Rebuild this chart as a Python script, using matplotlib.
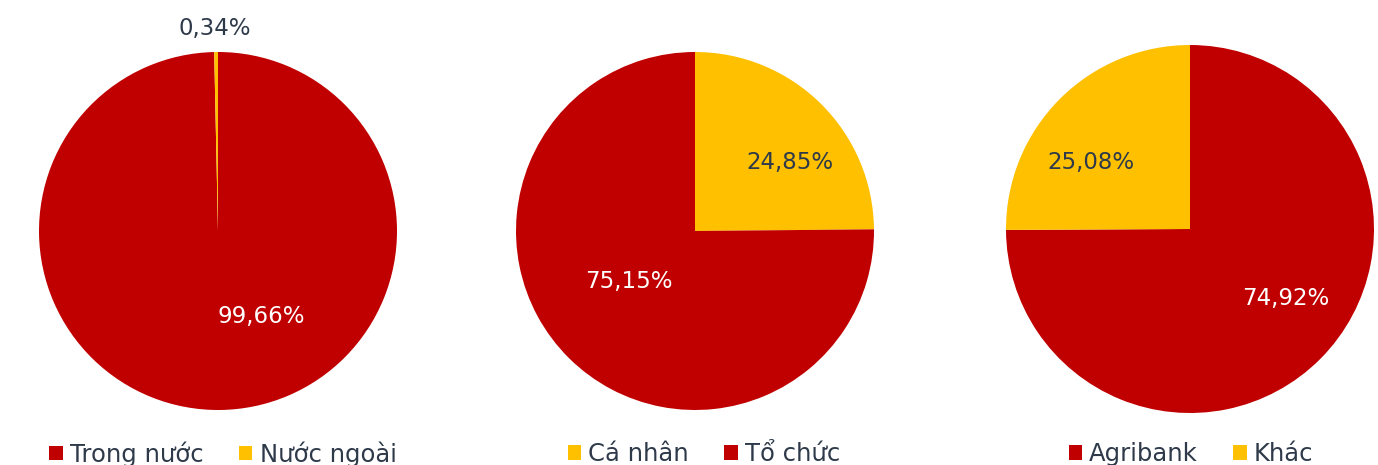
import matplotlib
matplotlib.use('Agg')
import matplotlib.pyplot as plt
from matplotlib.patches import Patch

RED = '#C00000'
YELLOW = '#FFC000'
TEXT = '#2E3A4A'

# chart 1: domestic vs foreign
labels_1 = ['Trong nước', 'Nước ngoài']
values_1 = [99.66, 0.34]
colors_1 = [RED, YELLOW]

# chart 2: individual vs organisation
labels_2 = ['Cá nhân', 'Tổ chức']
values_2 = [24.85, 75.15]
colors_2 = [YELLOW, RED]

# chart 3: Agribank vs other
labels_3 = ['Agribank', 'Khác']
values_3 = [74.92, 25.08]
colors_3 = [RED, YELLOW]

# label positions (in units of radius), per slice
label_pos_1 = [(0.24, -0.48), (-0.02, 1.13)]
label_pos_2 = [(0.53, 0.38), (-0.37, -0.28)]
label_pos_3 = [(0.52, -0.375), (-0.54, 0.36)]

plt.rcParams['font.family'] = ['DejaVu Sans']

W, H = 1378, 465
fig = plt.figure(figsize=(W / 100, H / 100), dpi=100)

# pie centre (px), radius (px), legend centre x (px)
layout = [
    ((218, 231), 179, 223),
    ((695, 231), 179, 704),
    ((1190, 229), 184, 1191),
]

charts = [
    (labels_1, values_1, colors_1, label_pos_1),
    (labels_2, values_2, colors_2, label_pos_2),
    (labels_3, values_3, colors_3, label_pos_3),
]

for (labels, values, colors, label_pos), ((cx, cy), r, lx) in zip(charts, layout):
    ax = fig.add_axes([(cx - r) / W, (H - cy - r) / H, 2 * r / W, 2 * r / H])
    ax.pie(values, colors=colors, startangle=90, counterclock=False,
           wedgeprops={'linewidth': 0})
    ax.set_xlim(-1, 1)
    ax.set_ylim(-1, 1)
    ax.set_aspect('auto')

    for v, c, (px, py) in zip(values, colors, label_pos):
        inside = (px ** 2 + py ** 2) < 1
        tc = 'white' if (inside and c == RED) else TEXT
        ax.text(px, py, f'{v:.2f}%'.replace('.', ','), ha='center', va='center',
                fontsize=16.5, color=tc, clip_on=False)

    handles = [Patch(facecolor=c, edgecolor='none') for c in colors]
    fig.legend(handles, labels, loc='center', bbox_to_anchor=(lx / W, 1 - 454 / H),
               ncol=2, frameon=False, fontsize=17.5, labelcolor=TEXT,
               handlelength=0.55, handleheight=0.55, handletextpad=0.3,
               columnspacing=1.45, borderaxespad=0)

fig.savefig('out.png', dpi=100)
